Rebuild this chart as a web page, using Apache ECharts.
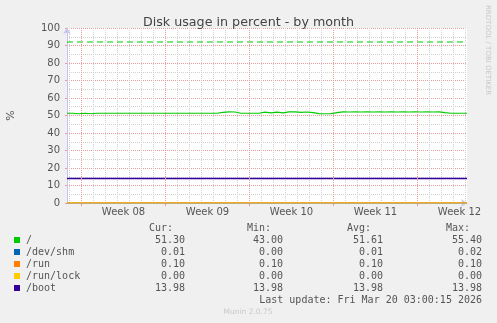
<!DOCTYPE html>
<html><head><meta charset="utf-8">
<script src="https://cdn.jsdelivr.net/npm/echarts@6/dist/echarts.min.js"></script>
<style>html,body{margin:0;padding:0;background:#f0f0f0}#c{width:497px;height:323px}</style>
</head><body><div id="c"></div>
<script>
// ---- data ----
const titleText = 'Disk usage in percent - by month';
const startTime = Date.UTC(2026, 1, 14, 19, 0, 0);
const endTime = Date.UTC(2026, 2, 20, 3, 0, 0);
const sampleStepHours = 12;
// "/" usage, one reading every 12 hours from startTime
const rootValues = [
  51.3, 51.3, 51.0, 51.3, 51.0, 51.3, 51.3, 51.3, 51.3, 51.3,
  51.3, 51.3, 51.3, 51.3, 51.3, 51.3, 51.3, 51.3, 51.3, 51.3,
  51.3, 51.3, 51.3, 51.3, 51.3, 51.3, 51.8, 52.1, 52.0, 51.3,
  51.3, 51.3, 51.3, 51.9, 51.5, 51.9, 51.5, 52.1, 52.1, 51.8,
  52.0, 51.6, 51.1, 51.0, 51.1, 51.6, 52.1, 52.0, 52.1, 52.0,
  52.1, 52.0, 52.1, 52.0, 52.1, 52.0, 52.1, 52.0, 52.1, 52.0,
  52.1, 52.0, 52.1, 51.6, 51.3, 51.3, 51.3, 51.3
];
const devShmValues = [0.01, 0.01];
const runValues = [0.10, 0.10];
const runLockValues = [0.00, 0.00];
const bootValues = [13.98, 13.98];
const warningValues = [92, 92];

const seriesNames = ['/', '/dev/shm', '/run', '/run/lock', '/boot'];
const seriesColors = ['#00cc00', '#0066b3', '#ff8000', '#ffcc00', '#330099'];
const curValues = ['51.30', '0.01', '0.10', '0.00', '13.98'];
const minValues = ['43.00', '0.00', '0.10', '0.00', '13.98'];
const avgValues = ['51.61', '0.01', '0.10', '0.00', '13.98'];
const maxValues = ['55.40', '0.02', '0.10', '0.00', '13.98'];
const columnHeaders = ['Cur:', 'Min:', 'Avg:', 'Max:'];

const weekStarts = ['2026-02-16', '2026-02-23', '2026-03-02', '2026-03-09', '2026-03-16'];
const weekLabels = ['Week 08', 'Week 09', 'Week 10', 'Week 11', 'Week 12'];
const yTicks = [0, 10, 20, 30, 40, 50, 60, 70, 80, 90, 100];
const lastUpdate = 'Last update: Fri Mar 20 03:00:15 2026';
const footer = 'Munin 2.0.75';
const sideText = 'RRDTOOL / TOBI OETIKER';

// ---- build ----
const H = 3600 * 1000, D = 24 * H;
const weekStartMs = weekStarts.map(s => Date.parse(s + 'T00:00:00Z'));
const weekMidMs = weekStartMs.map(t => t + 3.5 * D);
const dayTicks = [];
for (let t = Math.ceil(startTime / D) * D; t <= endTime; t += D) {
  if (weekStartMs.indexOf(t) < 0) dayTicks.push(t);
}
const rootData = rootValues.map((v, i) => [Math.min(startTime + i * sampleStepHours * H, endTime), v]);
const flat = arr => [[startTime, arr[0]], [endTime, arr[1]]];

const mono = 'DejaVu Sans Mono';
const sans = 'DejaVu Sans';
const textCol = '#555';
const graphics = [];
function txt(x, y, s, align, opts) {
  graphics.push(Object.assign({
    type: 'text', x: x, y: y,
    style: { text: s, fill: textCol, font: '10px "' + mono + '"', textAlign: align, textVerticalAlign: 'middle' },
    silent: true
  }, opts || {}));
}
const colRight = [185, 283, 383, 482];
const rowY0 = 240, rowStep = 12;
columnHeaders.forEach((h, i) => txt(colRight[i] - 12, 228, h, 'right'));
seriesNames.forEach((n, r) => {
  const y = rowY0 + r * rowStep;
  graphics.push({ type: 'rect', shape: { x: 14, y: y - 3, width: 6, height: 6 }, style: { fill: seriesColors[r] }, silent: true });
  txt(26, y, n, 'left');
  [curValues, minValues, avgValues, maxValues].forEach((col, i) => txt(colRight[i], y, col[r], 'right'));
});
txt(482, rowY0 + 5 * rowStep, lastUpdate, 'right');
graphics.push({ type: 'text', x: 248, y: 312, style: { text: footer, fill: '#c8c8c8', font: '7.5px "' + sans + '"', textAlign: 'center', textVerticalAlign: 'middle' }, silent: true });
graphics.push({ type: 'text', x: 488, y: 5, rotation: -Math.PI / 2, style: { text: sideText, fill: '#c8c8c8', font: '7px "' + sans + '"', textAlign: 'left', textVerticalAlign: 'middle' }, silent: true });

const redGrid = '#e99a9a';
const greyGrid = '#d0d0d0';
const axisBlue = '#c4c4ee';

const lineSeries = (name, data, color, width, extra) => Object.assign({
  name: name, type: 'line', data: data, xAxisIndex: 0, yAxisIndex: 0,
  symbol: 'none', animation: false, silent: true,
  lineStyle: { color: color, width: width }
}, extra || {});

const chart = echarts.init(document.getElementById('c'), null, { renderer: 'canvas' });
chart.setOption({
  backgroundColor: '#f0f0f0',
  animation: false,
  title: {
    text: titleText, left: 'center', top: 11,
    textStyle: { fontFamily: sans, fontSize: 12.7, fontWeight: 'normal', color: '#444' }
  },
  grid: { left: 67, right: 30, top: 28, bottom: 120, show: true, backgroundColor: '#ffffff', borderWidth: 0, containLabel: false, outerBoundsMode: 'none' },
  xAxis: [
    {
      type: 'value', min: startTime, max: endTime, position: 'bottom',
      axisLine: { show: true, lineStyle: { color: axisBlue, width: 1 }, symbol: ['none', 'arrow'], symbolSize: [6, 6] },
      axisTick: { show: false, customValues: dayTicks },
      axisLabel: { show: false },
      splitLine: { show: true, lineStyle: { color: greyGrid, type: [1, 1], width: 1 } }
    },
    {
      type: 'value', min: startTime, max: endTime, position: 'bottom',
      axisLine: { show: false },
      axisTick: { show: true, customValues: weekStartMs, length: 3, inside: false, lineStyle: { color: redGrid } },
      axisLabel: {
        show: true, customValues: weekMidMs, margin: 4,
        fontFamily: sans, fontSize: 10, color: textCol,
        formatter: v => weekLabels[weekMidMs.indexOf(v)] || ''
      },
      splitLine: { show: false }
    }
  ],
  yAxis: {
    type: 'value', min: 0, max: 100, interval: 10,
    name: '%', nameLocation: 'middle', nameRotate: 90, nameGap: 50,
    nameTextStyle: { fontFamily: sans, fontSize: 11, color: textCol },
    axisLine: { show: true, lineStyle: { color: axisBlue, width: 1 }, symbol: ['none', 'arrow'], symbolSize: [6, 6] },
    axisTick: { show: true, length: 2, lineStyle: { color: redGrid } },
    axisLabel: { fontFamily: sans, fontSize: 10, color: textCol, margin: 7, customValues: yTicks },
    splitLine: { show: true, lineStyle: { color: redGrid, type: [1, 1], width: 1 } },
    minorTick: { show: false, splitNumber: 2 },
    minorSplitLine: { show: true, lineStyle: { color: greyGrid, type: [1, 1], width: 1 } }
  },
  graphic: graphics,
  series: [
    lineSeries('weekgrid', [], redGrid, 1, {
      z: 1,
      markLine: {
        silent: true, symbol: ['none', 'none'], animation: false,
        label: { show: false },
        lineStyle: { color: redGrid, type: [1, 1], width: 1 },
        data: weekStartMs.map(t => ({ xAxis: t }))
      }
    }),
    lineSeries('/', rootData, seriesColors[0], 1.2),
    lineSeries('warn', flat(warningValues), seriesColors[0], 1.2, { lineStyle: { color: seriesColors[0], width: 1.2, type: [6, 4] } }),
    lineSeries('/dev/shm', flat(devShmValues), seriesColors[1], 1.2),
    lineSeries('/run', flat(runValues), seriesColors[2], 1.2),
    lineSeries('/run/lock', flat(runLockValues), seriesColors[3], 1.2),
    lineSeries('/boot', flat(bootValues), seriesColors[4], 1.5)
  ]
});
</script>
</body></html>
